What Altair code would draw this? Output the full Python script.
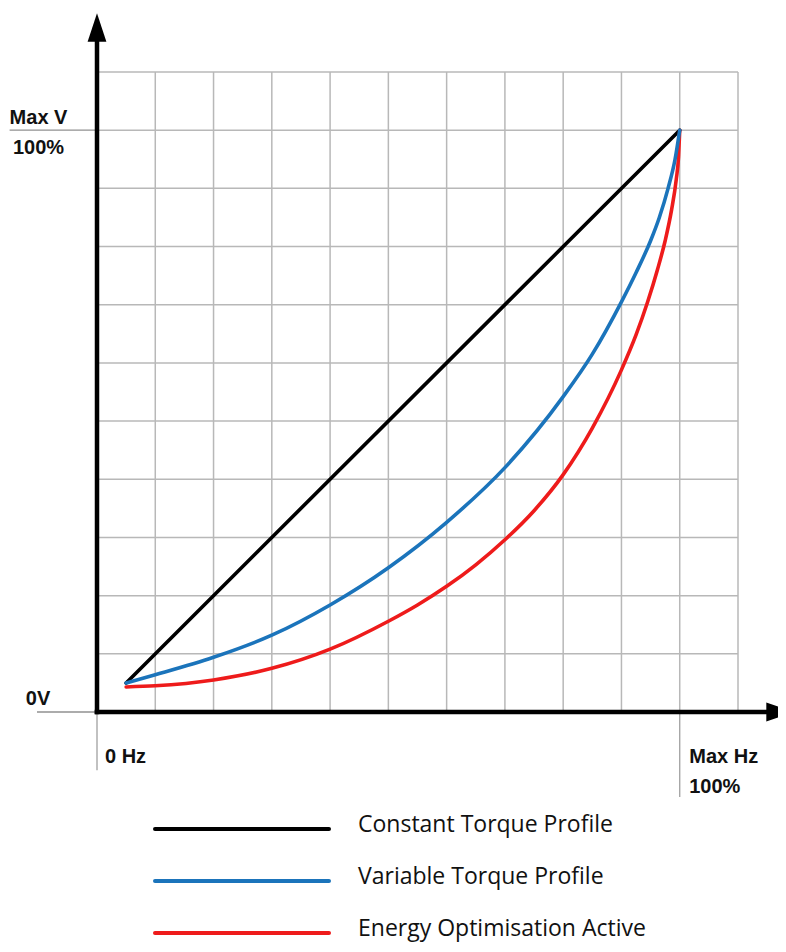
import altair as alt
import pandas as pd

# ---- data (x: % of max frequency, y: % of max voltage) ----
series_names = ["Constant Torque Profile", "Variable Torque Profile", "Energy Optimisation Active"]
series_colors = ["#000000", "#1b74bb", "#ee1b1b"]

const_freq = [5, 100]
const_volt = [5, 100]

var_freq = [5, 10, 20, 30, 40, 50, 60, 70, 80, 85, 90, 92.5, 95, 96.5, 98, 99.2, 100]
var_volt = [5, 6.4, 9.4, 13.2, 18.4, 24.8, 32.6, 42.0, 54.2, 61.5, 70.5, 75.5, 81.0, 85.0, 90.0, 95.0, 100]

eo_freq = [5, 10, 20, 30, 40, 50, 55, 60, 65, 70, 75, 80, 85, 90, 92.5, 94.5, 96.2, 97.5, 98.6, 99.4, 99.8, 100]
eo_volt = [4.3, 4.5, 5.5, 7.5, 10.8, 15.6, 18.4, 21.6, 25.3, 29.6, 34.6, 40.8, 48.8, 58.8, 64.8, 70.5, 76.1, 81.0, 86.3, 91.5, 95.5, 100]

grid_ticks = list(range(0, 111, 10))

axis_labels_left = ["Max V", "100%", "0V"]
axis_labels_bottom = ["0 Hz", "Max Hz", "100%"]

# ---- tables ----
rows = []
for name, fx, fy in [
    (series_names[0], const_freq, const_volt),
    (series_names[2], eo_freq, eo_volt),
    (series_names[1], var_freq, var_volt),
]:
    for i, (a, b) in enumerate(zip(fx, fy)):
        rows.append({"series": name, "freq": a, "volt": b, "i": i})
curves = pd.DataFrame(rows)
grid_df = pd.DataFrame({"g": grid_ticks})
legend_df = pd.DataFrame({"series": series_names})

xs = alt.Scale(domain=[0, 110], nice=False, zero=False)
ys = alt.Scale(domain=[0, 110], nice=False, zero=False)
cscale = alt.Scale(domain=series_names, range=series_colors)

GRID = "#b8b8b8"
base = alt.Chart(grid_df)

grid_v = base.mark_rule(color=GRID, strokeWidth=1.5).encode(
    x=alt.X("g:Q", scale=xs, axis=None),
    y=alt.Y(datum=0, scale=ys, axis=None),
    y2=alt.Y2(datum=110),
)
grid_h = base.mark_rule(color=GRID, strokeWidth=1.5).encode(
    y=alt.Y("g:Q", scale=ys, axis=None),
    x=alt.X(datum=0, scale=xs, axis=None),
    x2=alt.X2(datum=110),
)

def rule(x1, x2, y1, y2, color, width):
    return alt.Chart(grid_df.head(1)).mark_rule(color=color, strokeWidth=width).encode(
        x=alt.X(datum=x1, scale=xs, axis=None),
        x2=alt.X2(datum=x2),
        y=alt.Y(datum=y1, scale=ys, axis=None),
        y2=alt.Y2(datum=y2),
    )

guide_lines = [
    rule(-15.0, 0, 100, 100, "#909090", 1.3),
    rule(-10.3, 0, 0, 0, "#909090", 1.3),
    rule(0, 0, 0, -10.0, "#a0a0a0", 1.3),
    rule(100, 100, 0, -14.6, "#a0a0a0", 1.3),
]

axis_y = rule(0, 0, -0.4, 115.6, "black", 4.5)
axis_x = rule(-0.4, 115.2, 0, 0, "black", 4.5)

def arrow(x, y, shape):
    return alt.Chart(grid_df.head(1)).mark_point(
        shape=shape, filled=True, size=810, color="black", opacity=1, strokeWidth=0
    ).encode(
        x=alt.X(datum=x, scale=xs, axis=None),
        y=alt.Y(datum=y, scale=ys, axis=None),
    )

arrow_y = arrow(0, 117.65, "M0,-1L0.66,1L-0.66,1Z")
arrow_x = arrow(117.3, 0, "M1,0L-1,0.66L-1,-0.66Z")

lines = alt.Chart(curves).mark_line(strokeWidth=3.6, interpolate="monotone", strokeCap="round").encode(
    x=alt.X("freq:Q", scale=xs, axis=None),
    y=alt.Y("volt:Q", scale=ys, axis=None),
    color=alt.Color("series:N", scale=cscale, legend=None),
    detail="series:N",
    order="i:Q",
)

def label(txt, x, y, dx, dy, align):
    return alt.Chart(grid_df.head(1)).mark_text(
        text=txt, font="Liberation Sans", fontWeight="bold", fontSize=20,
        align=align, baseline="alphabetic", dx=dx, dy=dy, color="#111111",
    ).encode(
        x=alt.X(datum=x, scale=xs, axis=None),
        y=alt.Y(datum=y, scale=ys, axis=None),
    )

labels = [
    label(axis_labels_left[0], 0, 100, -58.5, -6.5, "center"),
    label(axis_labels_left[1], 0, 100, -58.5, 23.5, "center"),
    label(axis_labels_left[2], 0, 0, -59, -7, "center"),
    label(axis_labels_bottom[0], 0, 0, 8, 51, "left"),
    label(axis_labels_bottom[1], 100, 0, 9.5, 51, "left"),
    label(axis_labels_bottom[2], 100, 0, 9.5, 81, "left"),
]

leg_y = alt.Y("series:N", scale=alt.Scale(type="point", domain=series_names, range=[757, 861], padding=0), axis=None)
legend_rules = alt.Chart(legend_df).mark_rule(strokeWidth=4, strokeCap="round").encode(
    x=alt.value(58), x2=alt.value(232),
    y=leg_y,
    color=alt.Color("series:N", scale=cscale, legend=None),
)
legend_text = alt.Chart(legend_df).mark_text(
    font="Open Sans", fontSize=23, align="left", baseline="alphabetic", dy=3, color="#111111"
).encode(
    x=alt.value(261),
    y=leg_y,
    text="series:N",
)

chart = alt.layer(
    grid_v, grid_h, *guide_lines, axis_y, axis_x, arrow_y, arrow_x, lines, *labels,
    legend_rules, legend_text,
).resolve_scale(y="independent").properties(
    width=641, height=640,
    autosize=alt.AutoSizeParams(type="none"),
    padding={"left": 89, "top": 64, "right": 40, "bottom": 232},
    background="white",
).configure_view(stroke=None)

chart.save("out.html", embed_options={"renderer": "svg", "actions": False})
